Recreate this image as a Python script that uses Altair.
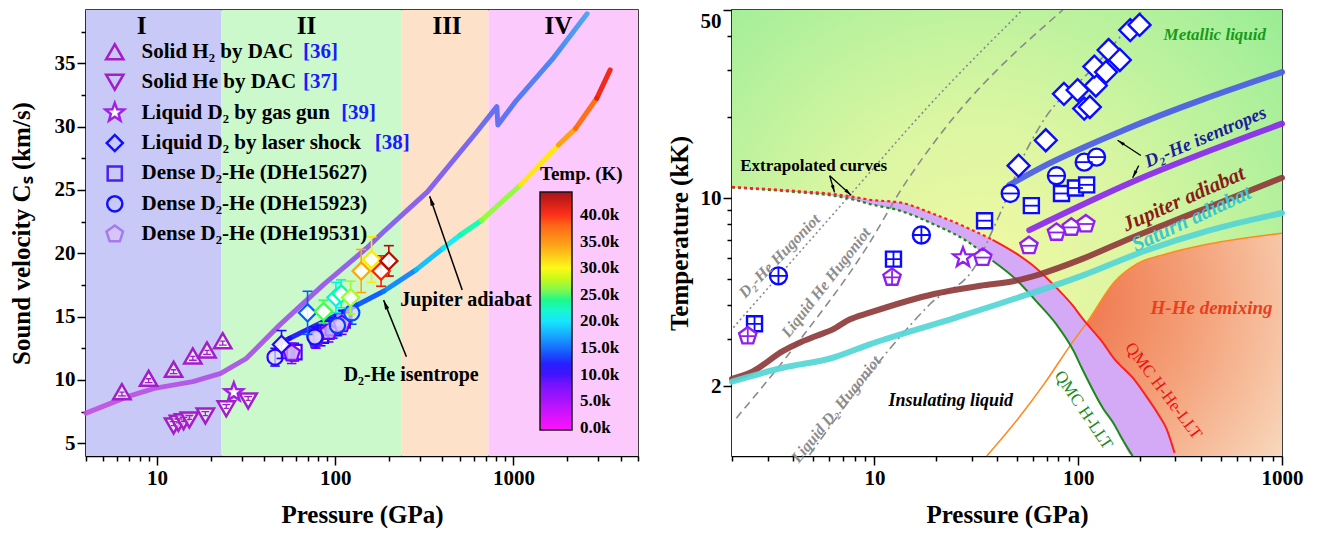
import json
import math
import altair as alt
import pandas as pd

FONT = "Liberation Serif"
W_L, W_R, H = 552, 550, 446

# ======================= LEFT PANEL DATA (sound velocity) =======================
P_DOMAIN_L = [4, 5000]
V_DOMAIN = [4, 39.2]

region_names = ["I", "II", "III", "IV"]
region_start = [4, 23, 236, 725]
region_end = [23, 236, 725, 5000]
region_fill = ["#c9c9f7", "#ccf9cc", "#fde1c9", "#fbc9fb"]
region_label_p = [8.2, 69, 424, 1790]
region_label_v = [37.9, 37.9, 37.9, 37.9]

jup_p = [4, 6.84, 9.66, 15.9, 22.8, 31.8, 48.9, 85.7, 150, 187, 330, 614, 807, 818, 1035, 1659, 2590]
jup_v = [7.38, 8.69, 9.34, 9.87, 10.52, 11.71, 14.35, 17.5, 20.4, 21.7, 24.87, 29.47, 31.57, 30.13, 32.03, 35.34, 38.9]

iso_p = [47, 55.6, 85.7, 132, 187, 284, 403, 504, 662, 1097, 1787, 2233, 2934, 3490]
iso_v = [12.8, 13.29, 14.6, 15.9, 17.0, 18.69, 20.4, 21.45, 22.6, 25.4, 28.55, 29.86, 32.23, 34.47]
iso_T = [10, 11, 12.5, 13.5, 15, 17, 19.5, 21.5, 24, 29, 33, 36, 39, 42.5]  # kK

h2_p = [6.36, 8.98, 12.4, 15.9, 19.1, 23.4]
h2_v = [9.08, 10.13, 10.84, 11.90, 12.37, 13.1]
he_p = [12.4, 13.2, 14.1, 15.2, 18.7, 24.5, 32.5]
he_v = [6.37, 6.58, 6.71, 6.85, 7.16, 7.72, 8.35]
gg_p = [27.0]
gg_v = [9.03]

ls_p = [50, 70, 86, 101, 108, 122, 140, 160, 181, 200]
ls_v = [12.8, 15.3, 15.4, 16.5, 16.8, 16.5, 18.6, 19.5, 18.6, 19.4]
ls_T = [11, 15, 25, 21, 23, 27, 34, 31, 40, 43]
ls_err = [1.1, 1.7, 0.9, 1.2, 1.1, 1.3, 1.7, 1.8, 1.2, 1.2]

cir_p = [46, 77, 103, 124]
cir_v = [11.8, 13.4, 14.3, 15.3]
cir_T = [10.4, 12.1, 13.6, 14.2]
cir_err = [0.7, 0.8, 0.8, 0.9]
sq_p = [59, 83, 97, 110]
sq_v = [12.2, 13.5, 14.1, 14.7]
sq_T = [9.4, 10.4, 10.9, 11.2]
sq_err = [0.7, 0.8, 0.8, 0.8]
pe_p = [57, 78, 92, 109]
pe_v = [12.1, 13.3, 13.8, 14.4]
pe_T = [6.7, 7.5, 7.8, 8.0]
pe_err = [0.8, 0.8, 0.8, 0.8]

temp_stops = [-400, 5000, 10000, 12500, 15000, 17500, 20000, 22500, 25000, 27500, 30000, 35000, 40000, 44300]
temp_colors = ["#ff00ff", "#a000ff", "#3000ff", "#0010ff", "#0060ff", "#00a8ff", "#00e8ff", "#00ffb8",
               "#40ff50", "#b0ff10", "#ffff00", "#ff9000", "#ff2000", "#a00000"]
cbar_values = [0, 5000, 10000, 15000, 20000, 25000, 30000, 35000, 40000]

leg_labels = ["Solid H₂ by DAC", "Solid He by DAC", "Liquid D₂ by gas gun", "Liquid D₂ by laser shock",
              "Dense D₂-He (DHe15627)", "Dense D₂-He (DHe15923)", "Dense D₂-He (DHe19531)"]
leg_refs = ["[36]", "[37]", "[39]", "[38]"]
leg_ref_p = [65.9, 65.9, 108, 167]
leg_v = [35.9, 33.5, 31.1, 28.7, 26.3, 23.9, 21.5]
leg_sym_p = 5.8
leg_txt_p = 8.2

# ======================= RIGHT PANEL DATA (phase diagram) =======================
P_DOMAIN_R = [2, 1000]
T_DOMAIN = [1.1, 50]

llt_p = [2, 4.3, 6.3, 8.2, 9.5, 13.3, 19.5, 28.3, 38, 50, 62, 78, 95, 104, 132, 152, 160, 185, 213, 250, 270, 297]
llt_h = [10.95, 10.5, 10.2, 9.8, 9.5, 8.98, 8.0, 6.93, 5.85, 4.95, 4.15, 3.40, 2.70, 2.34, 1.66, 1.42, 1.32, 1.1,
         1.1, 1.1, 1.1, 1.1]
llt_hhe = [11.0, 10.6, 10.35, 10.05, 9.85, 9.64, 8.73, 7.78, 7.0, 6.2, 5.5, 4.65, 3.95, 3.6, 2.9, 2.5, 2.4, 2.15,
           1.86, 1.55, 1.40, 1.13]

dm_p = [35.6, 50.9, 67.8, 94.6, 109, 152, 194, 270, 436, 1000]
dm_T = [1.1, 1.52, 2.03, 2.94, 3.40, 4.92, 5.69, 6.20, 6.75, 7.4]

jr_p = [2, 2.53, 3.55, 4.29, 5.17, 6.25, 7.55, 9.47, 19.6, 33.1, 48.6, 64.6, 104, 168, 270, 436, 702, 1000]
jr_T = [2.13, 2.27, 2.70, 2.90, 3.07, 3.25, 3.54, 3.75, 4.40, 4.72, 4.92, 5.21, 5.93, 6.93, 8.01, 9.25, 10.7, 11.9]
sat_p = [2, 3.55, 6.25, 9.47, 24.9, 50.9, 104, 213, 436, 1000]
sat_T = [2.08, 2.34, 2.55, 2.86, 3.59, 4.27, 5.14, 6.37, 7.57, 8.8]
isb_p = [46, 64.7, 168, 1000]
isb_T = [11.2, 12.9, 17.9, 29.4]
isp_p = [57.5, 185, 1000]
isp_T = [7.6, 11.5, 18.9]

hug_d2he_p = [2.03, 7.28, 19.6, 53.3]
hug_d2he_T = [3.3, 9.9, 23.1, 50]
hug_he_p = [2.1, 4.26, 9.1, 14, 20, 84]
hug_he_T = [1.52, 2.94, 6.5, 11.2, 16.4, 50]
hug_d2_p = [4.8, 12.8, 18.7, 31.6, 38, 46, 51, 64.6, 120, 208]
hug_d2_T = [1.11, 2.94, 4.03, 5.67, 7.6, 10.6, 13.0, 18.4, 30.8, 50]

r_dia_p = [51, 69.3, 85.1, 99.3, 107, 114, 122, 120, 137, 141, 160, 180, 200]
r_dia_T = [13.2, 16.4, 24.4, 25.2, 21.5, 21.8, 26.2, 30.8, 29.4, 35.5, 32.6, 42.1, 44.0]
r_cir_p = [3.38, 17.0, 46.4, 78.2, 107, 123]
r_cir_T = [5.14, 7.29, 10.4, 12.1, 13.6, 14.2]
r_cir_bar = ["+", "+", "-", "-", "-", "-"]
r_sq_p = [2.58, 12.4, 34.7, 58.9, 82.8, 96.9, 110]
r_sq_T = [3.41, 5.93, 8.24, 9.37, 10.4, 10.9, 11.2]
r_sq_bar = ["+", "+", "-", "-", "-", "-", "-"]
r_pe_p = [2.39, 12.2, 34.0, 57.3, 78.2, 92.5, 109]
r_pe_T = [3.07, 5.07, 6.01, 6.65, 7.45, 7.78, 8.01]
r_pe_bar = ["+", "+", "-", "-", "-", "-", "-"]
r_star_p = [27.2]
r_star_T = [6.01]

# ======================= shapes =======================
def star_path(n=5, r_in=0.42):
    pts = []
    for i in range(2 * n):
        r = 1.0 if i % 2 == 0 else r_in
        a = math.pi / n * i - math.pi / 2
        pts.append(f"{r * math.cos(a):.3f},{r * math.sin(a):.3f}")
    return "M" + "L".join(pts) + "Z"


STAR = star_path()
PENT = "M0,-1L0.951,-0.309L0.588,0.809L-0.588,0.809L-0.951,-0.309Z"
HLINE = "M-1,0L1,0"
PLUS = "M-1,0L1,0M0,-1L0,1"
IBEAM_UP = "M-0.3,0.05L0.3,0.05M-0.45,0.5L0.45,0.5M0,0.05L0,0.5"
IBEAM_DN = "M-0.3,-0.05L0.3,-0.05M-0.45,-0.5L0.45,-0.5M0,-0.05L0,-0.5"
ARROW = "M0,0L0.42,1.8L-0.42,1.8Z"


# ======================= axes / scales =======================
def make_axis(title, values, labeled, title_pad, top_value=None):
    test = "indexof(%s, datum.value) >= 0" % json.dumps(labeled)
    extra = {}
    if top_value is not None:
        extra["labelBaseline"] = {"condition": {"test": f"datum.value == {top_value}", "value": "top"},
                                  "value": "middle"}
    return alt.Axis(
        title=title, values=values, format="d",
        labelExpr=f"({test}) ? datum.label : ''",
        tickSize={"condition": {"test": test, "value": 9}, "value": 5},
        grid=False, labelOverlap=False, labelFlush=False,
        domainColor="black", domainWidth=1.5, tickColor="black", tickWidth=1.5,
        labelFont=FONT, labelFontSize=21, labelFontWeight="bold", labelColor="black", labelPadding=2,
        titleFont=FONT, titleFontSize=25, titleFontWeight="bold", titleColor="black", titlePadding=title_pad,
        **extra)


xL_ticks = [4, 5, 6, 7, 8, 9, 10, 20, 30, 40, 50, 60, 70, 80, 90, 100, 200, 300, 400, 500, 600, 700, 800, 900,
            1000, 2000, 3000, 4000, 5000]
yL_ticks = [5, 7.5, 10, 12.5, 15, 17.5, 20, 22.5, 25, 27.5, 30, 32.5, 35, 37.5]
xR_ticks = [2, 3, 4, 5, 6, 7, 8, 9, 10, 20, 30, 40, 50, 60, 70, 80, 90, 100, 200, 300, 400, 500, 600, 700, 800,
            900, 1000]
yR_ticks = [2, 3, 4, 5, 6, 7, 8, 9, 10, 20, 30, 40, 50]

axis_xL = make_axis("Pressure (GPa)", xL_ticks, [10, 100, 1000], 14)
axis_yL = make_axis("Sound velocity Cₛ (km/s)", yL_ticks, [5, 10, 15, 20, 25, 30, 35], 20)
axis_xR = make_axis("Pressure (GPa)", xR_ticks, [10, 100, 1000], 14)
axis_yR = make_axis("Temperature (kK)", yR_ticks, [2, 10, 50], 8, top_value=50)

scale_xL = alt.Scale(type="log", domain=P_DOMAIN_L, nice=False)
scale_yL = alt.Scale(type="linear", domain=V_DOMAIN, nice=False, zero=False)
scale_xR = alt.Scale(type="log", domain=P_DOMAIN_R, nice=False)
scale_yR = alt.Scale(type="log", domain=T_DOMAIN, nice=False)


def XL(f):
    return alt.X(f, type="quantitative", scale=scale_xL, axis=axis_xL)


def YL(f):
    return alt.Y(f, type="quantitative", scale=scale_yL, axis=axis_yL)


def XR(f):
    return alt.X(f, type="quantitative", scale=scale_xR, axis=axis_xR)


def YR(f):
    return alt.Y(f, type="quantitative", scale=scale_yR, axis=axis_yR)


temp_scale = alt.Scale(domain=temp_stops, range=temp_colors)
COLOR_LEG = alt.Legend(
    orient="none", legendX=454, legendY=155, direction="vertical", title="Temp. (K)",
    titleFont=FONT, titleFontSize=19, titleFontWeight="bold", titleColor="black", titlePadding=8,
    gradientLength=238, gradientThickness=32, gradientStrokeColor="black", gradientStrokeWidth=1.5,
    labelFont=FONT, labelFontSize=17, labelFontWeight="bold", labelColor="black", labelOffset=8,
    values=cbar_values, labelExpr="format(datum.value / 1000, '.1f') + 'k'", labelOverlap=False)


def TCOL():
    return alt.Color("T:Q", scale=temp_scale, legend=COLOR_LEG)


def to_px_left(p, v):
    a, b = math.log10(P_DOMAIN_L[0]), math.log10(P_DOMAIN_L[1])
    return W_L * (math.log10(p) - a) / (b - a), H * (1 - (v - V_DOMAIN[0]) / (V_DOMAIN[1] - V_DOMAIN[0]))


def to_px_right(p, t):
    a, b = math.log10(P_DOMAIN_R[0]), math.log10(P_DOMAIN_R[1])
    c, d = math.log10(T_DOMAIN[0]), math.log10(T_DOMAIN[1])
    return W_R * (math.log10(p) - a) / (b - a), H * (1 - (math.log10(t) - c) / (d - c))


def arrow_layers(tail, tip, conv, X, Y, color="black", width=1.5, head=110):
    x0, y0 = conv(*tail)
    x1, y1 = conv(*tip)
    ang = math.degrees(math.atan2(x1 - x0, -(y1 - y0))) % 360
    df = pd.DataFrame({"p0": [tail[0]], "v0": [tail[1]], "p1": [tip[0]], "v1": [tip[1]]})
    rule = alt.Chart(df).mark_rule(color=color, strokeWidth=width).encode(
        x=X("p0"), y=Y("v0"), x2="p1:Q", y2="v1:Q")
    headm = alt.Chart(df).mark_point(shape=ARROW, filled=True, color=color, size=head, angle=ang,
                                     opacity=1).encode(x=X("p1"), y=Y("v1"))
    return [rule, headm]


# ======================= LEFT PANEL LAYERS =======================
L = []
df_reg = pd.DataFrame({"p0": region_start, "p1": region_end, "fill": region_fill,
                       "lp": region_label_p, "lv": region_label_v, "name": region_names})
L.append(alt.Chart(df_reg).mark_rect().encode(x=XL("p0"), x2="p1:Q", fill=alt.Fill("fill:N", scale=None)))
L.append(alt.Chart(df_reg).mark_text(font=FONT, fontSize=25, fontWeight="bold", color="black").encode(
    x=XL("lp"), y=YL("lv"), text="name:N"))

jup_grad = alt.LinearGradient(gradient="linear", x1=0, y1=0, x2=1, y2=0, stops=[
    alt.GradientStop(color="#c24ee2", offset=0), alt.GradientStop(color="#a44ee8", offset=0.35),
    alt.GradientStop(color="#8a52ee", offset=0.55), alt.GradientStop(color="#7358f0", offset=0.75),
    alt.GradientStop(color="#4a6cf2", offset=0.84), alt.GradientStop(color="#3a80f0", offset=0.93),
    alt.GradientStop(color="#3ea2f0", offset=1)])
df_jup = pd.DataFrame({"p": jup_p, "v": jup_v})
L.append(alt.Chart(df_jup).mark_line(stroke=jup_grad, strokeWidth=5, strokeCap="round", strokeJoin="round",
                                     opacity=0.9).encode(x=XL("p"), y=YL("v")))

rows = []
for i in range(len(iso_p) - 1):
    tm = (iso_T[i] + iso_T[i + 1]) / 2 * 1000
    rows.append({"seg": i, "p": iso_p[i], "v": iso_v[i], "T": tm})
    rows.append({"seg": i, "p": iso_p[i + 1], "v": iso_v[i + 1], "T": tm})
df_iso = pd.DataFrame(rows)
L.append(alt.Chart(df_iso).mark_line(strokeWidth=5, strokeCap="round", opacity=0.9).encode(
    x=XL("p"), y=YL("v"), color=TCOL(), detail="seg:N"))

PURPLE = "#a21fc8"
df_h2 = pd.DataFrame({"p": h2_p, "v": h2_v})
df_he = pd.DataFrame({"p": he_p, "v": he_v})
df_gg = pd.DataFrame({"p": gg_p, "v": gg_v})
L.append(alt.Chart(df_h2).mark_point(shape="triangle-up", filled=False, fill="white", fillOpacity=0.6,
                                     color=PURPLE, strokeWidth=2.5, size=300, opacity=1).encode(x=XL("p"), y=YL("v")))
L.append(alt.Chart(df_h2).mark_point(shape=IBEAM_UP, filled=False, color=PURPLE, strokeWidth=1.3, size=300,
                                     opacity=1).encode(x=XL("p"), y=YL("v")))
L.append(alt.Chart(df_he).mark_point(shape="triangle-down", filled=False, fill="white", fillOpacity=0.6,
                                     color=PURPLE, strokeWidth=2.5, size=300, opacity=1).encode(x=XL("p"), y=YL("v")))
L.append(alt.Chart(df_he).mark_point(shape=IBEAM_DN, filled=False, color=PURPLE, strokeWidth=1.3, size=300,
                                     opacity=1).encode(x=XL("p"), y=YL("v")))
L.append(alt.Chart(df_gg).mark_point(shape=STAR, filled=False, fill="white", color="#a21fe8", strokeWidth=2.5,
                                     size=380, opacity=1).encode(x=XL("p"), y=YL("v")))


def err_layers(df, size=90):
    base = alt.Chart(df).transform_calculate(lo="datum.v - datum.e", hi="datum.v + datum.e")
    return [
        base.mark_rule(strokeWidth=1.6).encode(x=XL("p"), y=YL("lo:Q"), y2="hi:Q", color=TCOL()),
        base.mark_point(shape=HLINE, filled=False, strokeWidth=1.6, size=size, opacity=1).encode(
            x=XL("p"), y=YL("lo:Q"), color=TCOL()),
        base.mark_point(shape=HLINE, filled=False, strokeWidth=1.6, size=size, opacity=1).encode(
            x=XL("p"), y=YL("hi:Q"), color=TCOL()),
    ]


df_cir = pd.DataFrame({"p": cir_p, "v": cir_v, "T": [t * 1000 for t in cir_T], "e": cir_err})
df_sq = pd.DataFrame({"p": sq_p, "v": sq_v, "T": [t * 1000 for t in sq_T], "e": sq_err})
df_pe = pd.DataFrame({"p": pe_p, "v": pe_v, "T": [t * 1000 for t in pe_T], "e": pe_err})
df_ls = pd.DataFrame({"p": ls_p, "v": ls_v, "T": [t * 1000 for t in ls_T], "e": ls_err})

for d in (df_sq, df_pe, df_cir):
    L += err_layers(d)
L.append(alt.Chart(df_sq).mark_point(shape="square", filled=False, fill="white", fillOpacity=0.6, strokeWidth=2.2,
                                     size=210, opacity=1).encode(x=XL("p"), y=YL("v"), color=TCOL()))
L.append(alt.Chart(df_pe).mark_point(shape=PENT, filled=False, fill="#c8a6f4", fillOpacity=0.8, strokeWidth=2.2,
                                     size=300, opacity=1).encode(x=XL("p"), y=YL("v"), color=TCOL()))
L.append(alt.Chart(df_cir).mark_point(shape="circle", filled=False, fill="#e2d8ff", fillOpacity=0.7,
                                      strokeWidth=2.2, size=230, opacity=1).encode(x=XL("p"), y=YL("v"), color=TCOL()))
L += err_layers(df_ls, 100)
L.append(alt.Chart(df_ls).mark_point(shape="diamond", filled=False, fill="white", fillOpacity=0.9, strokeWidth=2.2,
                                     size=300, opacity=1).encode(x=XL("p"), y=YL("v"), color=TCOL()))

# marker legend (drawn in data space, top left)
leg_shapes = ["triangle-up", "triangle-down", STAR, "diamond", "square", "circle", PENT]
leg_stroke = [PURPLE, PURPLE, "#a21fe8", "#1010ff", "#4a20ee", "#1010ff", "#a47af0"]
leg_fill = ["transparent", "transparent", "white", "transparent", "transparent", "transparent", "#d7c4f8"]
leg_size = [300, 300, 380, 260, 200, 230, 300]
df_leg = pd.DataFrame({"p": [leg_sym_p] * 7, "tp": [leg_txt_p] * 7, "v": leg_v, "label": leg_labels,
                       "shape": leg_shapes, "stroke": leg_stroke, "fill": leg_fill, "size": leg_size})
L.append(alt.Chart(df_leg).mark_point(strokeWidth=2.5, opacity=1).encode(
    x=XL("p"), y=YL("v"), shape=alt.Shape("shape:N", scale=None), stroke=alt.Stroke("stroke:N", scale=None),
    fill=alt.Fill("fill:N", scale=None), size=alt.Size("size:Q", scale=None)))
L.append(alt.Chart(df_leg).mark_text(align="left", baseline="middle", font=FONT, fontSize=21, fontWeight="bold",
                                     color="black").encode(x=XL("tp"), y=YL("v"), text="label:N"))
df_ref = pd.DataFrame({"p": leg_ref_p, "v": leg_v[:4], "label": leg_refs})
L.append(alt.Chart(df_ref).mark_text(align="left", baseline="middle", font=FONT, fontSize=21, fontWeight="bold",
                                     color="#1a1aff").encode(x=XL("p"), y=YL("v"), text="label:N"))

# annotations
L += arrow_layers((516, 17.1), (339, 24.5), to_px_left, XL, YL)
L += arrow_layers((251, 11.84), (187, 16.3), to_px_left, XL, YL)
df_ann = pd.DataFrame({"p": [542, 267], "v": [16.3, 10.4], "label": ["Jupiter adiabat", "D₂-He isentrope"]})
L.append(alt.Chart(df_ann).mark_text(font=FONT, fontSize=20, fontWeight="bold", color="black").encode(
    x=XL("p"), y=YL("v"), text="label:N"))

left = alt.layer(*L).properties(width=W_L, height=H)

# ======================= RIGHT PANEL LAYERS =======================
R = []
SMOOTH = "monotone"
df_bg = pd.DataFrame({"p0": [P_DOMAIN_R[0]], "p1": [P_DOMAIN_R[1]], "t0": [T_DOMAIN[0]], "t1": [T_DOMAIN[1]]})
bg_grad = alt.RadialGradient(gradient="radial", x1=0.45, y1=0.58, r1=0, x2=0.45, y2=0.58, r2=0.85, stops=[
    alt.GradientStop(color="#f3f8a2", offset=0), alt.GradientStop(color="#daf6a2", offset=0.35),
    alt.GradientStop(color="#a8ef9a", offset=0.75), alt.GradientStop(color="#86e98c", offset=1)])
R.append(alt.Chart(df_bg).mark_rect(fill=bg_grad).encode(x=XR("p0"), x2="p1:Q", y=YR("t0"), y2="t1:Q"))

dm_grad = alt.RadialGradient(gradient="radial", x1=0.25, y1=0.35, r1=0, x2=0.25, y2=0.35, r2=0.95, stops=[
    alt.GradientStop(color="#ef7046", offset=0), alt.GradientStop(color="#f4a27a", offset=0.5),
    alt.GradientStop(color="#f9dcc2", offset=1)])
df_dm = pd.DataFrame({"p": dm_p, "t": dm_T, "base": [T_DOMAIN[0]] * len(dm_p)})
R.append(alt.Chart(df_dm).mark_area(fill=dm_grad, interpolate=SMOOTH).encode(x=XR("p"), y=YR("t"), y2="base:Q"))

df_llt = pd.DataFrame({"p": llt_p, "lo": llt_h, "hi": llt_hhe, "base": [T_DOMAIN[0]] * len(llt_p)})
R.append(alt.Chart(df_llt).mark_area(color="white", opacity=1, interpolate=SMOOTH).encode(
    x=XR("p"), y=YR("lo"), y2="base:Q"))
R.append(alt.Chart(df_llt).mark_area(color="#d4aaf6", opacity=1, interpolate=SMOOTH).encode(
    x=XR("p"), y=YR("hi"), y2="lo:Q"))

GRAY = "#8a8a8a"
for px_, tx_, dash in ((hug_d2he_p, hug_d2he_T, [2, 3]), (hug_he_p, hug_he_T, [8, 5]),
                       (hug_d2_p, hug_d2_T, [9, 4, 2, 4])):
    dfh = pd.DataFrame({"p": px_, "t": tx_})
    R.append(alt.Chart(dfh).mark_line(color=GRAY, strokeWidth=1.6, strokeDash=dash, clip=True,
                                      interpolate=SMOOTH).encode(x=XR("p"), y=YR("t")))

df_dml = pd.DataFrame({"p": dm_p, "t": dm_T})
R.append(alt.Chart(df_dml).mark_line(color="#ff8a1e", strokeWidth=1.6, interpolate=SMOOTH).encode(
    x=XR("p"), y=YR("t")))

R.append(alt.Chart(df_llt).transform_filter("datum.p <= 38").mark_line(
    color="#1a8a1a", strokeWidth=2.2, strokeDash=[3, 3], interpolate=SMOOTH).encode(x=XR("p"), y=YR("lo")))
R.append(alt.Chart(df_llt).transform_filter("datum.p >= 38 && datum.p <= 185").mark_line(
    color="#1a8a1a", strokeWidth=2, interpolate=SMOOTH).encode(x=XR("p"), y=YR("lo")))
R.append(alt.Chart(df_llt).transform_filter("datum.p <= 38").mark_line(
    color="#ff2020", strokeWidth=2.2, strokeDash=[3, 3], interpolate=SMOOTH).encode(x=XR("p"), y=YR("hi")))
R.append(alt.Chart(df_llt).transform_filter("datum.p >= 38").mark_line(
    color="#ff2020", strokeWidth=2, interpolate=SMOOTH).encode(x=XR("p"), y=YR("hi")))

for px_, tx_, col in ((jr_p, jr_T, "#8e3b3b"), (sat_p, sat_T, "#55d6d6"), (isb_p, isb_T, "#4a5ce6"),
                      (isp_p, isp_T, "#8a28ee")):
    dfl = pd.DataFrame({"p": px_, "t": tx_})
    R.append(alt.Chart(dfl).mark_line(color=col, strokeWidth=6, strokeCap="round", opacity=0.92,
                                      interpolate=SMOOTH).encode(x=XR("p"), y=YR("t")))

BLUE = "#0a0aff"
VIOLET = "#9020f0"


def marker_with_bars(p, t, bars, shape, color, size, bar_size):
    d = pd.DataFrame({"p": p, "t": t, "bar": bars})
    out = [alt.Chart(d).mark_point(shape=shape, filled=False, fill="white", fillOpacity=1, color=color,
                                   strokeWidth=2.4, size=size, opacity=1).encode(x=XR("p"), y=YR("t"))]
    out.append(alt.Chart(d).transform_filter("datum.bar == '+'").mark_point(
        shape=PLUS, filled=False, color=color, strokeWidth=1.8, size=bar_size, opacity=1).encode(
        x=XR("p"), y=YR("t")))
    out.append(alt.Chart(d).transform_filter("datum.bar == '-'").mark_point(
        shape=HLINE, filled=False, color=color, strokeWidth=1.8, size=bar_size, opacity=1).encode(
        x=XR("p"), y=YR("t")))
    return out


R += marker_with_bars(r_sq_p, r_sq_T, r_sq_bar, "square", BLUE, 225, 225)
R += marker_with_bars(r_cir_p, r_cir_T, r_cir_bar, "circle", BLUE, 290, 290)
R += marker_with_bars(r_pe_p, r_pe_T, r_pe_bar, PENT, VIOLET, 330, 200)
df_rs = pd.DataFrame({"p": r_star_p, "t": r_star_T})
R.append(alt.Chart(df_rs).mark_point(shape=STAR, filled=False, fill="white", color=VIOLET, strokeWidth=2.4,
                                     size=420, opacity=1).encode(x=XR("p"), y=YR("t")))
df_rd = pd.DataFrame({"p": r_dia_p, "t": r_dia_T})
R.append(alt.Chart(df_rd).mark_point(shape="diamond", filled=False, fill="white", fillOpacity=1, color=BLUE,
                                     strokeWidth=2.4, size=480, opacity=1).encode(x=XR("p"), y=YR("t")))

R += arrow_layers((6.03, 12.1), (6.37, 10.5), to_px_right, XR, YR, width=1.3, head=70)
R += arrow_layers((6.03, 12.1), (7.69, 10.25), to_px_right, XR, YR, width=1.3, head=70)
R += arrow_layers((203, 14.4), (156, 16.4), to_px_right, XR, YR, width=1.3, head=70)
R += arrow_layers((198, 13.2), (185, 11.9), to_px_right, XR, YR, width=1.3, head=70)

r_texts = [
    ("Metallic liquid", 468, 40.3, "#1a9a1a", 0, 17, "italic", "bold"),
    ("D₂-He isentropes", 421, 16.9, "#1c1c9c", 337, 18.5, "italic", "bold"),
    ("Jupiter adiabat", 330, 9.9, "#8b1a1a", 336, 21, "italic", "bold"),
    ("Saturn adiabat", 360, 8.35, "#3cc8d0", 335, 21, "italic", "bold"),
    ("H-He demixing", 451, 3.92, "#e8401c", 0, 19, "italic", "bold"),
    ("Insulating liquid", 23.7, 1.76, "black", 0, 18, "italic", "bold"),
    ("QMC H-LLT", 106, 1.63, "#1a8a1a", 56, 17, "normal", "normal"),
    ("QMC H-He-LLT", 262, 1.92, "#ee1111", 53, 17, "normal", "normal"),
    ("Extrapolated curves", 5.03, 13.2, "black", 0, 17, "normal", "bold"),
    ("D₂-He Hugoniot", 3.42, 6.09, "#8c8c8c", 314, 16, "italic", "bold"),
    ("Liquid He Hugoniot", 5.79, 4.85, "#8c8c8c", 308, 16, "italic", "bold"),
    ("Liquid D₂ Hugoniot", 6.50, 1.64, "#8c8c8c", 309, 16, "italic", "bold"),
]
for txt, p, t, col, ang, fs, style, weight in r_texts:
    dft = pd.DataFrame({"p": [p], "t": [t], "label": [txt]})
    R.append(alt.Chart(dft).mark_text(font=FONT, fontSize=fs, fontStyle=style, fontWeight=weight, color=col,
                                      angle=ang).encode(x=XR("p"), y=YR("t"), text="label:N"))

right = alt.layer(*R).properties(width=W_R, height=H)

chart = alt.hconcat(left, right, spacing=94, bounds="flush").properties(padding=0).configure_view(
    stroke="black", strokeWidth=1.5)

chart.save("out.html", embed_options={"renderer": "svg", "actions": False})
